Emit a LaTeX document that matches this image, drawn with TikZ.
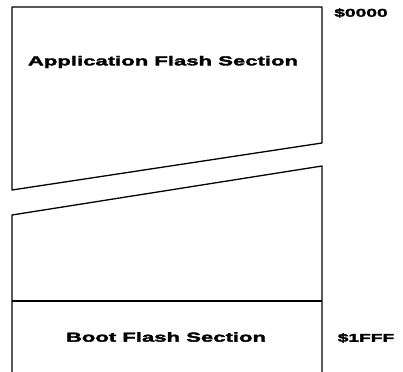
\documentclass[tikz,border=0pt]{standalone}
\usepackage{fontspec}
\newfontfamily\lblfont[FakeStretch=1.7,FakeBold=2.5]{Liberation Sans Bold}
\usetikzlibrary{calc,positioning}

\begin{document}
\begin{tikzpicture}[x=1pt,y=-1pt,line width=1.3pt,line join=round]
  \useasboundingbox (0,0) rectangle (403,371);
  % upper part of the flash
  \coordinate (TL) at (12,7);
  \coordinate (TR) at (322,7);
  \coordinate (BR) at (322,143);
  \coordinate (BL) at (12,190);
  \draw (TL) -- (TR) -- (BR) -- (BL) -- cycle;
  % lower part, open at the bottom
  \coordinate (UL) at (12,215);
  \coordinate (UR) at (322,166);
  \coordinate (DL) at (12,372);
  \coordinate (DR) at (322,372);
  \coordinate (ML) at (12,301);
  \coordinate (MR) at (322,301);
  \draw (DL) -- (UL) -- (UR) -- (DR);
  \draw (ML) -- (MR);
  \node[font=\lblfont\fontsize{13}{15}\selectfont] (app) at (163,62) {Application Flash Section};
  \node[font=\lblfont\fontsize{13}{15}\selectfont] (boot) at (166,337) {Boot Flash Section};
  \node[font=\lblfont\fontsize{11.3}{13}\selectfont] (start) at (361,13) {\$0000};
  \node[font=\lblfont\fontsize{11.3}{13}\selectfont] (end) at (366,338) {\$1FFF};
\end{tikzpicture}
\end{document}
